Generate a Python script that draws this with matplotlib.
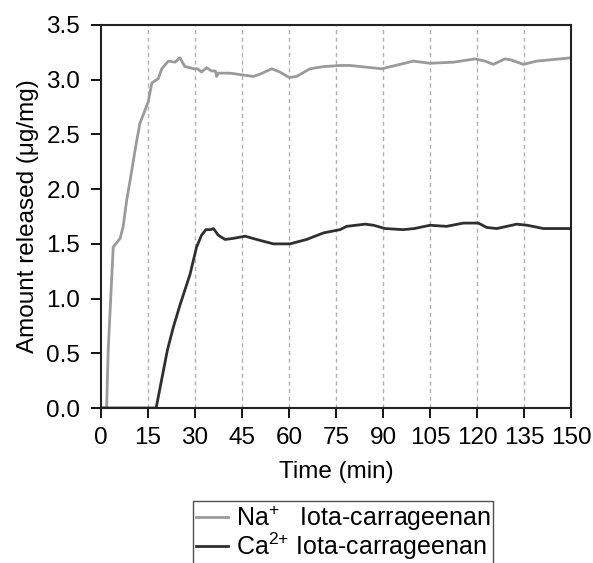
import matplotlib.pyplot as plt

plt.rcParams['font.family'] = ['Liberation Sans', 'DejaVu Sans']
plt.rcParams['mathtext.fontset'] = 'custom'
plt.rcParams['mathtext.rm'] = 'Liberation Sans'

# Na+ iota-carrageenan (grey)
na_t = [0, 1.8, 2.3, 3.9, 6.1, 7.1, 8.2, 9.3, 10.9, 12.4, 15.1, 16.2, 18.3, 19.4,
        21.5, 23.6, 25.2, 25.8, 26.8, 28.4, 29.5, 30.8, 32.1, 33.7, 35.3, 36.5,
        36.9, 37.4, 41.2, 48.6, 50.7, 54.5, 57.1, 60.1, 62.4, 66.7, 71, 76.3,
        79.5, 89.6, 95.4, 99.7, 105, 112.4, 119.4, 122.6, 125.2, 128.9, 131,
        134.8, 139.1, 150]
na_v = [0, 0, 0.53, 1.47, 1.55, 1.66, 1.90, 2.08, 2.36, 2.60, 2.80, 2.97, 3.01,
        3.10, 3.17, 3.16, 3.20, 3.17, 3.12, 3.11, 3.10, 3.10, 3.07, 3.11, 3.08,
        3.08, 3.03, 3.06, 3.06, 3.03, 3.05, 3.10, 3.07, 3.02, 3.03, 3.10, 3.12,
        3.13, 3.13, 3.10, 3.14, 3.17, 3.15, 3.16, 3.19, 3.17, 3.14, 3.19, 3.18,
        3.14, 3.17, 3.20]

# Ca2+ iota-carrageenan (dark)
ca_t = [0, 17.6, 21.2, 23.1, 25.2, 28.4, 30.5, 32.1, 33.5, 35.0, 35.9, 37.4,
        39.6, 42.2, 46, 49.7, 55, 60.3, 65.6, 71, 76.3, 78.4, 84.3, 87, 90.7,
        96.5, 100, 105, 110.3, 115.7, 120.4, 123.1, 126.3, 132.7, 136, 141.2,
        150]
ca_v = [0, 0, 0.53, 0.74, 0.94, 1.22, 1.47, 1.58, 1.63, 1.63, 1.64, 1.58,
        1.54, 1.55, 1.57, 1.54, 1.50, 1.50, 1.54, 1.60, 1.63, 1.66, 1.68, 1.67,
        1.64, 1.63, 1.64, 1.67, 1.66, 1.69, 1.69, 1.65, 1.64, 1.68, 1.67, 1.64,
        1.64]

xticks = list(range(0, 151, 15))
yticks = [0.0, 0.5, 1.0, 1.5, 2.0, 2.5, 3.0, 3.5]

fs = 17.5

fig = plt.figure(figsize=(5.93, 5.63), dpi=100)
ax = fig.add_axes([0.1703, 0.2753, 0.7926, 0.6803])

for x in xticks[1:-1]:
    ax.axvline(x, color='#b0b0b0', lw=1, ls=(0, (3, 2.5)), zorder=0)

ax.plot(na_t, na_v, color='#9a9a9a', lw=2, label='Na$^{+}$   Iota-carrageenan')
ax.plot(ca_t, ca_v, color='#2f2f2f', lw=2, label='Ca$^{2{+}}$ Iota-carrageenan')

ax.set_xlim(0, 150)
ax.set_ylim(0, 3.5)
ax.set_xticks(xticks)
ax.set_yticks(yticks)
ax.set_yticklabels(['%.1f' % v for v in yticks])
ax.tick_params(direction='out', length=7, width=1.3, labelsize=fs)
ax.tick_params(axis='x', pad=7)
ax.tick_params(axis='y', pad=8)
for s in ax.spines.values():
    s.set_linewidth(1.5)
    s.set_color('#222222')

ax.set_xlabel('Time (min)', fontsize=fs, labelpad=8)
ax.set_ylabel('Amount released (\u03bcg/mg)', fontsize=fs, labelpad=5)

leg = ax.legend(loc='upper left', bbox_to_anchor=(193 / 593, 1 - 501 / 563),
                bbox_transform=fig.transFigure, fontsize=18,
                frameon=True, fancybox=False, edgecolor='#222222',
                handlelength=1.3, handletextpad=0.3, borderpad=0.1,
                labelspacing=-0.08, borderaxespad=0)
leg.get_frame().set_linewidth(1.0)

plt.savefig('out.png', dpi=100)
